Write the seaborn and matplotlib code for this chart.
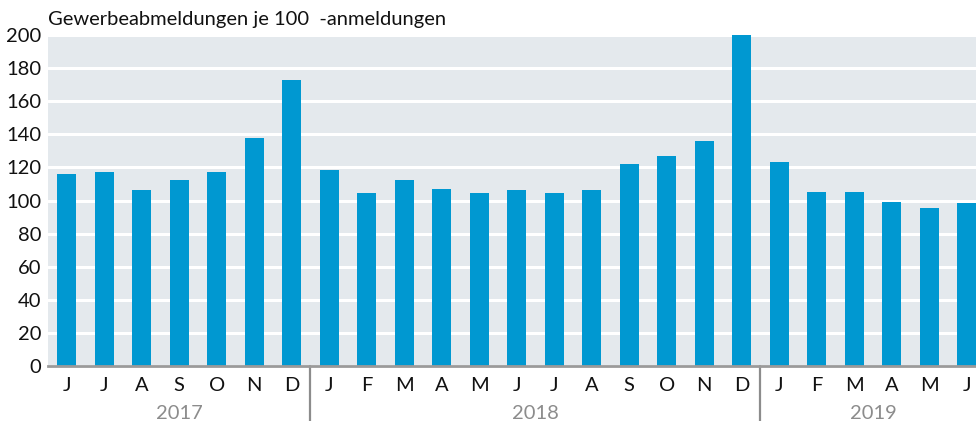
"""Gewerbeabmeldungen je 100 Gewerbeanmeldungen, Jun 2017 - Jun 2019."""
import matplotlib
matplotlib.use("Agg")
import matplotlib.pyplot as plt
import pandas as pd
import seaborn as sns

# data
months = ["2017-06", "2017-07", "2017-08", "2017-09", "2017-10", "2017-11", "2017-12",
          "2018-01", "2018-02", "2018-03", "2018-04", "2018-05", "2018-06", "2018-07",
          "2018-08", "2018-09", "2018-10", "2018-11", "2018-12",
          "2019-01", "2019-02", "2019-03", "2019-04", "2019-05", "2019-06"]
month_letters = ["J", "J", "A", "S", "O", "N", "D",
                 "J", "F", "M", "A", "M", "J", "J", "A", "S", "O", "N", "D",
                 "J", "F", "M", "A", "M", "J"]
ratio = [116, 117.5, 106.5, 112.5, 117.5, 138, 173,
         118.5, 104.5, 112.5, 107, 104.5, 106.5, 104.5, 106.5, 122, 127, 136, 200,
         123, 105, 105, 99, 95.5, 98.5]
years = ["2017", "2018", "2019"]

BLUE = "#0098d1"
BG = "#e4e9ed"
GREY = "#8c8c8c"

df = pd.DataFrame({"monat": months, "quote": ratio})
df["jahr"] = df["monat"].str[:4]

sns.set_theme(style="white")
plt.rcParams["font.family"] = ["Lato", "DejaVu Sans"]

fig = plt.figure(figsize=(9.76, 4.21), dpi=100)
ax = fig.add_axes([48 / 976, 1 - 366 / 421, 928 / 976, 331 / 421])
ax.set_facecolor(BG)

sns.barplot(data=df, x="monat", y="quote", order=months, color=BLUE,
            saturation=1, width=0.5, linewidth=0, ax=ax, zorder=3)

ax.set_ylim(0, 200)
ax.set_xlim(-0.5, len(months) - 0.75)
ax.set_yticks(range(0, 201, 20))
ax.yaxis.grid(True, color="white", linewidth=2.2, zorder=1)
ax.set_axisbelow(True)
ax.tick_params(axis="y", length=0, labelsize=14.5, pad=5, labelcolor="#111111")
ax.tick_params(axis="x", length=0, labelsize=14.5, pad=8, labelcolor="#111111")
ax.set_xticks(range(len(months)))
ax.set_xticklabels(month_letters)
ax.set_xlabel("")
ax.set_ylabel("")

for side in ["top", "right", "left"]:
    ax.spines[side].set_visible(False)
ax.spines["bottom"].set_color("#9a9a9a")
ax.spines["bottom"].set_linewidth(2)
ax.spines["bottom"].set_zorder(5)

# year groups: separators and labels below the month letters
trans = ax.get_xaxis_transform()
pos = df.reset_index().groupby("jahr")["index"].agg(["min", "max"])
for yr in years:
    lo, hi = pos.loc[yr, "min"], pos.loc[yr, "max"]
    ax.text((lo + hi) / 2, -0.118, yr, transform=trans, ha="center", va="top",
            fontsize=14.5, color=GREY)
    if lo > 0:
        ax.plot([lo - 0.5, lo - 0.5], [0, -0.17], transform=trans, color=GREY,
                linewidth=1.6, clip_on=False)

fig.text(48 / 976, 1 - 20 / 421, "Gewerbeabmeldungen je 100  -anmeldungen",
         ha="left", va="center", fontsize=14.5, color="#111111")

fig.savefig("out.png", dpi=100)
